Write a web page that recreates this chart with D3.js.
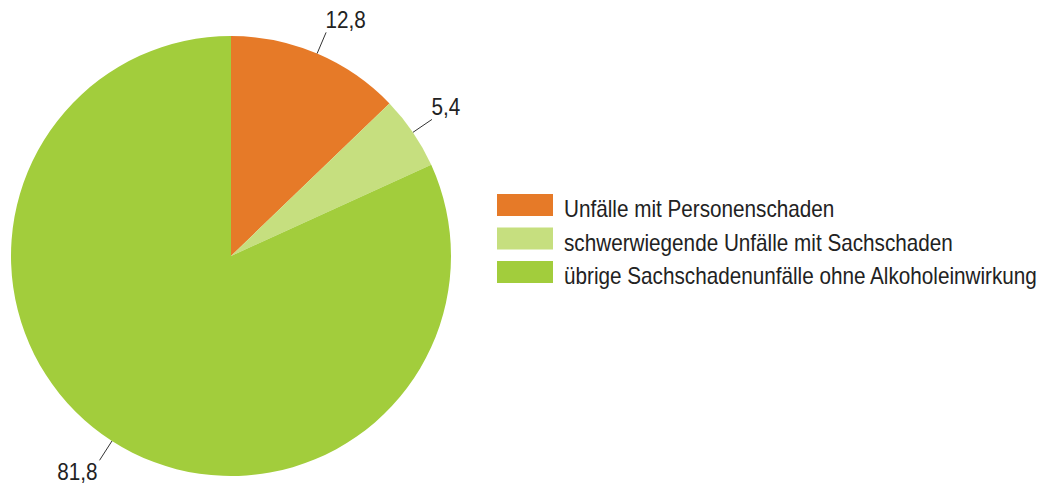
<!DOCTYPE html>
<html>
<head>
<meta charset="utf-8">
<script src="https://cdn.jsdelivr.net/npm/d3@7"></script>
<style>
  body { margin: 0; background: #fff; }
  svg text { font-family: Arial, "Liberation Sans", Helvetica, sans-serif; fill: #222; }
</style>
</head>
<body>
<svg id="chart" width="1046" height="486"></svg>
<script>
// Categories and shares (percent)
const categories = [
  "Unfälle mit Personenschaden",
  "schwerwiegende Unfälle mit Sachschaden",
  "übrige Sachschadenunfälle ohne Alkoholeinwirkung"
];
const values = [12.8, 5.4, 81.8];
const valueLabels = ["12,8", "5,4", "81,8"];
const colors = ["#e67a28", "#c6df7f", "#a2cd3c"];

const svg = d3.select("#chart");

const cx = 231, cy = 256, radius = 220;
const squeeze = 0.9; // the source font is a bit narrower than Arial

const pie = d3.pie().sort(null).value(d => d);
const arcs = pie(values);

const arc = d3.arc().innerRadius(0).outerRadius(radius);

const g = svg.append("g").attr("transform", `translate(${cx},${cy})`);

// Slices
g.selectAll("path.slice")
  .data(arcs)
  .enter()
  .append("path")
  .attr("class", "slice")
  .attr("d", arc)
  .attr("fill", (d, i) => colors[i]);

// Leader lines + value labels
const lineInner = d3.arc().innerRadius(radius).outerRadius(radius);
const lineOuter = d3.arc().innerRadius(radius + 23).outerRadius(radius + 23);

arcs.forEach((d, i) => {
  const p1 = lineInner.centroid(d);
  const p2 = lineOuter.centroid(d);
  g.append("line")
    .attr("x1", p1[0]).attr("y1", p1[1])
    .attr("x2", p2[0]).attr("y2", p2[1])
    .attr("stroke", "#333")
    .attr("stroke-width", 1);

  const right = p2[0] >= 0;
  const tx = right ? p2[0] - 0.5 : p2[0] - 2;
  const ty = right ? p2[1] - 4 : p2[1] + 20;
  g.append("text")
    .attr("transform", `translate(${tx},${ty}) scale(${squeeze},1)`)
    .attr("text-anchor", right ? "start" : "end")
    .style("font-size", "23px")
    .text(valueLabels[i]);
});

// Legend
const legend = svg.append("g").attr("transform", "translate(497,194)");
const rowH = 33.5;

const rows = legend.selectAll("g.row")
  .data(categories)
  .enter()
  .append("g")
  .attr("class", "row")
  .attr("transform", (d, i) => `translate(0,${i * rowH})`);

rows.append("rect")
  .attr("width", 56)
  .attr("height", 22)
  .attr("fill", (d, i) => colors[i]);

rows.append("text")
  .attr("transform", `translate(67,23) scale(${squeeze},1)`)
  .style("font-size", "23px")
  .text(d => d);
</script>
</body>
</html>
